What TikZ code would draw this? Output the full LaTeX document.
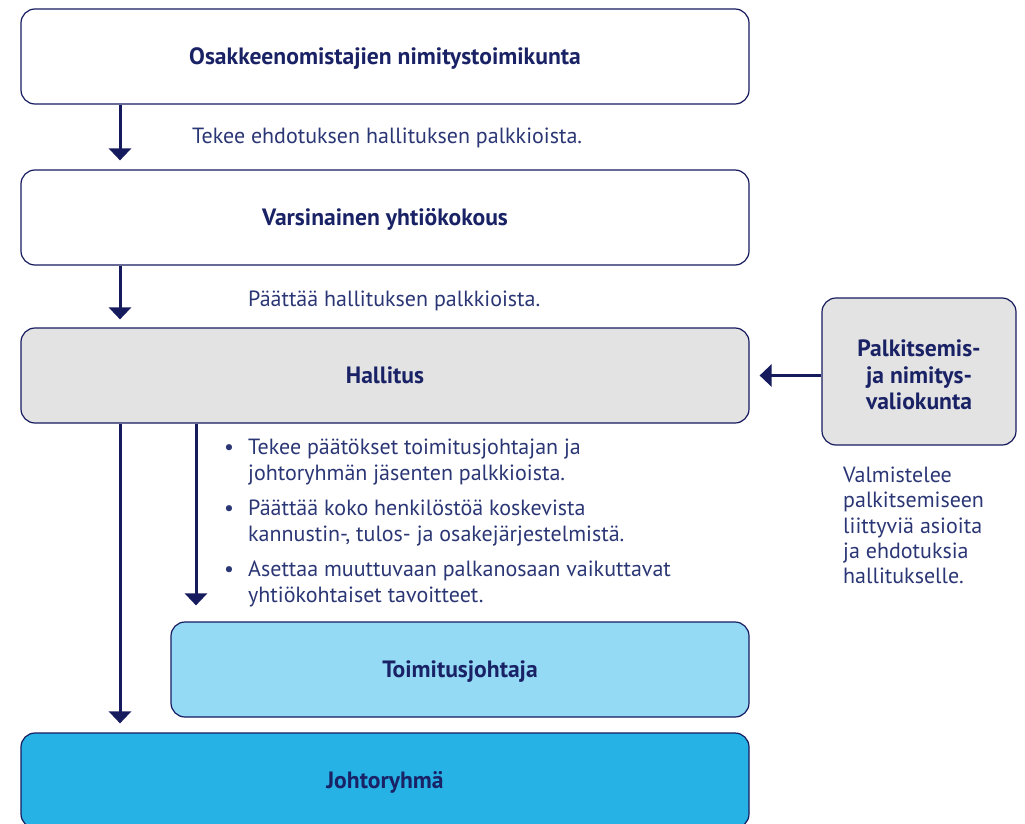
\documentclass[tikz,border=0pt]{standalone}
\usepackage{fontspec}
\setmainfont{PT Sans}
\usetikzlibrary{arrows.meta}
\definecolor{navy}{HTML}{161B5E}
\definecolor{txt}{HTML}{2B3675}
\definecolor{boldtxt}{HTML}{1A2266}
\definecolor{greyfill}{HTML}{E3E3E3}
\definecolor{lightblue}{HTML}{94DAF4}
\definecolor{midblue}{HTML}{27B2E6}
\tikzset{
  box/.style={draw=navy, line width=1.2pt, rounded corners=14pt, minimum width=728pt, minimum height=95pt, inner sep=0pt,
    font=\fontsize{23.6}{26.5}\selectfont\bfseries, text=boldtxt, align=center, text height=16.5pt, text depth=0pt},
  arr/.style={draw=navy, line width=3pt, -{Triangle[length=12pt,width=22pt]}},
  label/.style={font=\fontsize{22}{26}\selectfont, text=txt, inner sep=0pt, anchor=base west},
}
\begin{document}
\begin{tikzpicture}[x=1pt,y=-1pt]
\useasboundingbox (0,0) rectangle (1025,824);
\node[box, fill=white] (b1) at (385,56.5) {Osakkeenomistajien nimitystoimikunta};
\node[box, fill=white] (b2) at (385,217.5) {Varsinainen yhtiökokous};
\node[box, fill=greyfill] (b3) at (385,375.5) {Hallitus};
\node[box, fill=greyfill, minimum width=194pt, minimum height=147pt, text height=, text depth=] (pnv) at (919,371.5) {};
\node[font=\fontsize{23.6}{26.5}\selectfont\bfseries, text=boldtxt, align=center, inner sep=0pt] (pnvt) at (919,375) {Palkitsemis-\\ja nimitys-\\valiokunta};
\node[box, fill=lightblue, minimum width=578pt] (toim) at (460,669.5) {Toimitusjohtaja};
\node[box, fill=midblue] (johto) at (385,780.5) {Johtoryhmä};

\coordinate (xa) at (120,0);
\coordinate (xb) at (196,0);
\draw[arr, shorten >=9pt] (b1.south -| xa) -- (b2.north -| xa);
\draw[arr, shorten >=8pt] (b2.south -| xa) -- (b3.north -| xa);
\draw[arr, shorten >=9pt] (b3.south -| xa) -- (johto.north -| xa);
\draw[arr, shorten >=16pt] (b3.south -| xb) -- (toim.north -| xb);
\draw[arr, shorten >=10pt] (pnv.west |- b3.east) -- (b3.east);

\node[label] (l1) at (192,143) {Tekee ehdotuksen hallituksen palkkioista.};
\node[label] (l2) at (248,306) {Päättää hallituksen palkkioista.};

\node[label] (i1a) at (248,454) {Tekee päätökset toimitusjohtajan ja};
\node[label] (i1b) at (248,480) {johtoryhmän jäsenten palkkioista.};
\node[label] (i2a) at (248,515) {Päättää koko henkilöstöä koskevista};
\node[label] (i2b) at (248,541) {kannustin-, tulos- ja osakejärjestelmistä.};
\node[label] (i3a) at (248,576) {Asettaa muuttuvaan palkanosaan vaikuttavat};
\node[label] (i3b) at (248,602) {yhtiökohtaiset tavoitteet.};
\node[label, anchor=base] (d1) at (229,454) {•};
\node[label, anchor=base] (d2) at (229,515) {•};
\node[label, anchor=base] (d3) at (229,576) {•};

\node[label] (r1) at (843,482) {Valmistelee};
\node[label] (r2) at (843,507.5) {palkitsemiseen};
\node[label] (r3) at (843,533) {liittyviä asioita};
\node[label] (r4) at (843,558) {ja ehdotuksia};
\node[label] (r5) at (843,583.5) {hallitukselle.};
\end{tikzpicture}
\end{document}
